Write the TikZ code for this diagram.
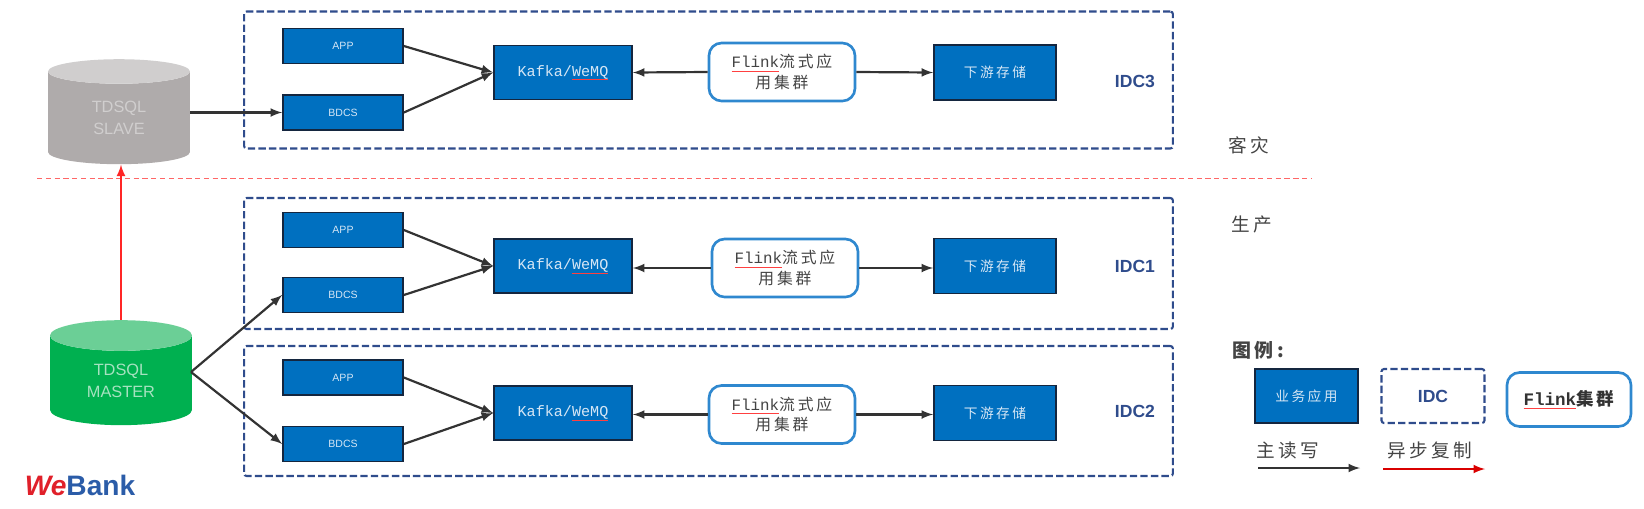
\documentclass[tikz,border=0pt]{standalone}
\usepackage{fontspec}
\setmainfont{Liberation Mono}
\setsansfont{Liberation Sans}
\newfontfamily\cjk[LetterSpace=18]{Noto Sans CJK SC}
\usetikzlibrary{shapes.geometric}
\definecolor{appblue}{HTML}{0070C0}
\definecolor{appedge}{HTML}{14263F}
\definecolor{apptext}{HTML}{D5E6F5}
\definecolor{idcblue}{HTML}{2F4C8C}
\definecolor{flinkblue}{HTML}{2F88CF}
\definecolor{slavegrey}{HTML}{AFABAB}
\definecolor{slavetop}{HTML}{D0CECE}
\definecolor{mastergreen}{HTML}{00B050}
\definecolor{mastertop}{HTML}{6BCF96}
\definecolor{linkgrey}{HTML}{333333}
\definecolor{textgrey}{HTML}{444444}
\definecolor{webred}{HTML}{E0202A}
\definecolor{webblue}{HTML}{2B5CA8}
\newcommand{\spell}[1]{\setbox0\hbox{#1}\rlap{\textcolor{red!75}{\rule[-2.2pt]{\wd0}{0.5pt}}}\box0}
\tikzset{
  appbox/.style={draw=appedge,line width=1pt,fill=appblue,text=apptext,inner sep=0pt,font=\sffamily\fontsize{6}{7}\selectfont,minimum width=2.4cm,minimum height=0.7cm},
  mqbox/.style={appbox,font=\fontsize{8.6}{10}\selectfont,minimum width=2.76cm,minimum height=1.08cm},
  storebox/.style={appbox,font=\cjk\fontsize{7.8}{10}\selectfont,minimum width=2.44cm,minimum height=1.1cm},
  flinkbox/.style={draw=flinkblue,line width=1.5pt,rounded corners=2.5mm,fill=white,text=textgrey,align=center,inner sep=0pt,font=\fontsize{9}{11.5}\selectfont,minimum width=2.92cm,minimum height=1.16cm},
  idcbox/.style={draw=idcblue,line width=1.2pt,dash pattern=on 4.2pt off 1.8pt,rounded corners=0.5mm,inner sep=0pt,minimum width=18.58cm},
  idclabel/.style={text=idcblue,inner sep=0pt,font=\sffamily\bfseries\fontsize{10}{12}\selectfont},
  dbbox/.style={cylinder,shape border rotate=90,aspect=0.45,draw=none,text=white,align=center,inner sep=0pt,font=\sffamily\fontsize{9.3}{12.4}\selectfont,minimum width=2.84cm,minimum height=2.1cm,cylinder uses custom fill},
  zone/.style={text=textgrey,inner sep=0pt,font=\cjk\fontsize{10.6}{12}\selectfont},
  link/.style={->,>=latex,draw=linkgrey,line width=1.25pt},
  copylink/.style={->,>=latex,draw=red!85!white,line width=1.25pt}
}
\begin{document}
\begin{tikzpicture}[x=0.02cm,y=-0.02cm]
	\useasboundingbox (0,0) rectangle (1644,508);

	% Les zones IDC
	\node[idcbox,minimum height=2.74cm] (idc3) at (708.5,80) {};
	\node[idcbox,minimum height=2.62cm] (idc1) at (708.5,263.5) {};
	\node[idcbox,minimum height=2.6cm] (idc2) at (708.5,411) {};
	\node[idclabel] (idc3text) at (1135,81) {IDC3};
	\node[idclabel] (idc1text) at (1135,266) {IDC1};
	\node[idclabel] (idc2text) at (1135,411) {IDC2};

	% La separation
	\coordinate (sepleft) at (37,178);
	\coordinate (sepright) at (1311,178);
	\draw[red!60,densely dashed,line width=0.5pt] (sepleft) -- (sepright);
	\node[zone] (zonedr) at (1249,145) {客灾};
	\node[zone] (zoneprod) at (1252,224) {生产};

	% Les bases
	\node[dbbox,cylinder body fill=slavegrey,cylinder end fill=slavetop] (slave) at (119,118) {\textcolor{slavetop}{TDSQL}\\\textcolor{slavetop}{SLAVE}};
	\node[dbbox,cylinder body fill=mastergreen,cylinder end fill=mastertop] (master) at (121,380.5) {\textcolor{mastertop!60!white}{TDSQL}\\\textcolor{mastertop!60!white}{MASTER}};
	\coordinate (masterout) at (191,372);

	% IDC3
	\node[appbox] (app3) at (343,46) {APP};
	\node[appbox] (bdcs3) at (343,112.5) {BDCS};
	\node[mqbox] (mq3) at (563,72.5) {Kafka/\spell{WeMQ}};
	\node[flinkbox] (flink3) at (782,72) {\spell{Flink}{\cjk 流式应}\\{\cjk 用集群}};
	\node[storebox] (store3) at (995,72.5) {下游存储};

	% IDC1
	\node[appbox] (app1) at (343,230) {APP};
	\node[appbox] (bdcs1) at (343,295) {BDCS};
	\node[mqbox] (mq1) at (563,266) {Kafka/\spell{WeMQ}};
	\node[flinkbox] (flink1) at (785,268) {\spell{Flink}{\cjk 流式应}\\{\cjk 用集群}};
	\node[storebox] (store1) at (995,266) {下游存储};

	% IDC2
	\node[appbox] (app2) at (343,377.5) {APP};
	\node[appbox] (bdcs2) at (343,444) {BDCS};
	\node[mqbox] (mq2) at (563,413) {Kafka/\spell{WeMQ}};
	\node[flinkbox] (flink2) at (782,414.5) {\spell{Flink}{\cjk 流式应}\\{\cjk 用集群}};
	\node[storebox] (store2) at (995,413) {下游存储};

	% Les liens
	\draw[link] (slave.east |- bdcs3.west) -- (bdcs3.west);
	\draw[link] (app3.east) -- (mq3.west);
	\draw[link] (bdcs3.east) -- (mq3.west);
	\draw[link] (flink3.west) -- (mq3.east);
	\draw[link] (flink3.east) -- (store3.west);
	\draw[link] (app1.east) -- (mq1.west);
	\draw[link] (bdcs1.east) -- (mq1.west);
	\draw[link] (flink1.west) -- (mq1.east |- flink1.west);
	\draw[link] (flink1.east) -- (store1.west |- flink1.east);
	\draw[link] (app2.east) -- (mq2.west);
	\draw[link] (bdcs2.east) -- (mq2.west);
	\draw[link] (flink2.west) -- (mq2.east |- flink2.west);
	\draw[link] (flink2.east) -- (store2.west |- flink2.east);
	\draw[link] (masterout) -- (bdcs1.west);
	\draw[link] (masterout) -- (bdcs2.west);
	\draw[copylink] (master.north) -- (master.north |- slave.south);

	% La legende
	\node[inner sep=0pt,text=textgrey,font=\cjk\bfseries\fontsize{10.8}{12}\selectfont] (legendtitle) at (1258,350) {图例:};
	\node[storebox,minimum width=2.06cm,minimum height=1.08cm] (legendapp) at (1306.5,396) {业务应用};
	\node[idcbox,minimum width=2.06cm,minimum height=1.08cm,text=idcblue,font=\sffamily\bfseries\fontsize{10}{12}\selectfont] (legendidc) at (1433,396) {IDC};
	\node[flinkbox,minimum width=2.48cm,minimum height=1.08cm,text=black!80,font=\bfseries\fontsize{10}{12}\selectfont] (legendflink) at (1569,399.5) {\spell{Flink}{\cjk 集群}};
	\node[zone] (legendrw) at (1288,450) {主读写};
	\node[zone] (legendcopy) at (1430,450) {异步复制};
	\coordinate (rwstart) at (1258,468);
	\coordinate (rwend) at (1360,468);
	\coordinate (copystart) at (1383,469);
	\coordinate (copyend) at (1485,469);
	\draw[link] (rwstart) -- (rwend);
	\draw[copylink,draw=red!85!black] (copystart) -- (copyend);

	% Le logo
	\node[inner sep=0pt,font=\sffamily\bfseries\fontsize{16}{18}\selectfont] (webank) at (80,485) {\textcolor{webred}{\itshape We}\textcolor{webblue}{Bank}};
\end{tikzpicture}
\end{document}
